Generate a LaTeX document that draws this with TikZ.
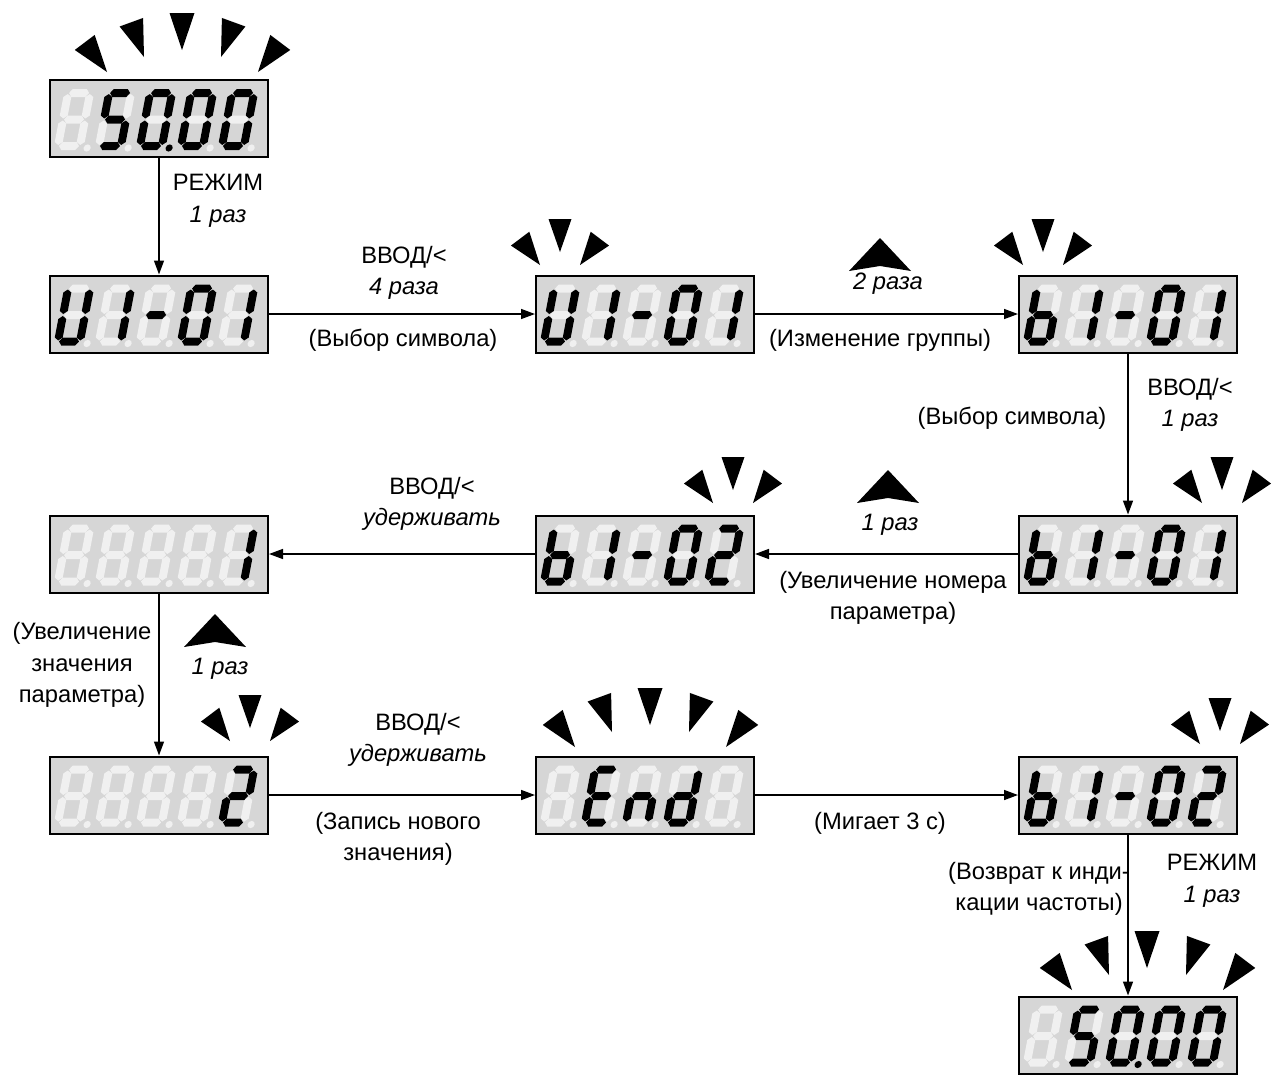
\documentclass[tikz,border=0pt]{standalone}
\usepackage{fontspec}
\setmainfont{Liberation Sans}
\usepackage{tikz}
\usetikzlibrary{arrows.meta}

\begin{document}
\begin{tikzpicture}[
  x=0.2mm, y=-0.2mm,
  every node/.style={font=\fontsize{13.5}{18}\selectfont},
  lcd/.style={draw, line width=0.4mm, fill=black!16, minimum width=43.6mm, minimum height=15.4mm, inner sep=0},
  lbl/.style={align=center, inner sep=1pt},
  arr/.style={-{Triangle[length=2.8mm, width=2mm]}, line width=0.3mm},
]

\useasboundingbox (0,0) rectangle (1274,1075);

%% ── segments of one digit (frame 22 x 53, y up) ──────────────────────────
\def\hseg#1{\fill[\segcol] (1,#1) -- ++(3,4) -- ++(14,0) -- ++(3,-4) -- ++(-3,-4) -- ++(-14,0) -- cycle;}
\def\vseg#1#2{\fill[\segcol] (#1,#2+1) -- ++(4,3) -- ++(0,18.5) -- ++(-4,3) -- ++(-4,-3) -- ++(0,-18.5) -- cycle;}
\def\sega{\hseg{53}}
\def\segb{\vseg{22}{26.5}}
\def\segc{\vseg{22}{0}}
\def\segd{\hseg{0}}
\def\sege{\vseg{0}{0}}
\def\segf{\vseg{0}{26.5}}
\def\segg{\hseg{26.5}}
\def\segp{\fill[\segcol] (29.5,-2) circle[radius=3.6];}

%% five digits into a display node
\def\lcdshow#1#2{
  \foreach \segs [count=\k from 0] in {#2} {
    \begin{scope}[shift={(#1.south west)}, shift={(9+41*\k,-12)}, y=0.2mm, xslant=0.19]
      \def\segcol{black!6}
      \foreach \s in {a,b,c,d,e,f,g,p} {\csname seg\s\endcsname}
      \def\segcol{black}
      \foreach \s in \segs {\csname seg\s\endcsname}
    \end{scope}
  }
}

%% blinking marks, #1/#2 = tip of the middle one
\def\blinkfive#1#2{
  \foreach \dx/\dy/\ang in {-75/22/37, -38/7/20, 0/0/0, 39/7/-20, 76/22/-37}
    \fill[shift={(#1+\dx,#2+\dy)}, rotate=\ang] (0,0) -- (-12.5,-37) -- (12.5,-37) -- cycle;
}
\def\blinkthree#1#2{
  \foreach \dx/\dy/\ang in {-20/13/37, 0/0/0, 20/13/-37}
    \fill[shift={(#1+\dx,#2+\dy)}, rotate=\ang] (0,0) -- (-11.5,-33) -- (11.5,-33) -- cycle;
}
%% up key, #1/#2 = apex
\def\upkey#1#2{\fill (#1,#2) -- ++(31,33) -- ++(-31,-5) -- ++(-31,5) -- cycle;}

%% ── displays ─────────────────────────────────────────────────────────────
\node[lcd] (freqA) at (159,118.5) {};
\node[lcd] (uA)    at (159,314) {};
\node[lcd] (uB)    at (645,314) {};
\node[lcd] (bA)    at (1128,314) {};
\node[lcd] (bB)    at (1128,554) {};
\node[lcd] (bC)    at (645,554) {};
\node[lcd] (valA)  at (159,554) {};
\node[lcd] (valB)  at (159,795) {};
\node[lcd] (done)  at (645,795) {};
\node[lcd] (bD)    at (1128,795) {};
\node[lcd] (freqB) at (1128,1035) {};

\lcdshow{freqA}{{},{a,f,g,c,d},{a,b,c,d,e,f,p},{a,b,c,d,e,f},{a,b,c,d,e,f}}
\lcdshow{uA}{{b,c,d,e,f},{b,c},{g},{a,b,c,d,e,f},{b,c}}
\lcdshow{uB}{{b,c,d,e,f},{b,c},{g},{a,b,c,d,e,f},{b,c}}
\lcdshow{bA}{{c,d,e,f,g},{b,c},{g},{a,b,c,d,e,f},{b,c}}
\lcdshow{bB}{{c,d,e,f,g},{b,c},{g},{a,b,c,d,e,f},{b,c}}
\lcdshow{bC}{{c,d,e,f,g},{b,c},{g},{a,b,c,d,e,f},{a,b,g,e,d}}
\lcdshow{valA}{{},{},{},{},{b,c}}
\lcdshow{valB}{{},{},{},{},{a,b,g,e,d}}
\lcdshow{done}{{},{a,d,e,f,g},{c,e,g},{b,c,d,e,g},{}}
\lcdshow{bD}{{c,d,e,f,g},{b,c},{g},{a,b,c,d,e,f},{a,b,g,e,d}}
\lcdshow{freqB}{{},{a,f,g,c,d},{a,b,c,d,e,f,p},{a,b,c,d,e,f},{a,b,c,d,e,f}}

\blinkfive{182}{50}
\blinkthree{560}{252}
\blinkthree{1043}{252}
\blinkthree{1222}{490}
\blinkthree{733}{490}
\blinkthree{250}{728}
\blinkfive{650}{725}
\blinkthree{1220}{731}
\blinkfive{1147}{968}

%% ── steps ────────────────────────────────────────────────────────────────
\draw[arr] (freqA.south) -- (uA.north);
\draw[arr] (uA.east) -- (uB.west);
\draw[arr] (uB.east) -- (bA.west);
\draw[arr] (bA.south) -- (bB.north);
\draw[arr] (bB.west) -- (bC.east);
\draw[arr] (bC.west) -- (valA.east);
\draw[arr] (valA.south) -- (valB.north);
\draw[arr] (valB.east) -- (done.west);
\draw[arr] (done.east) -- (bD.west);
\draw[arr] (bD.south) -- (freqB.north);

%% ── labels ───────────────────────────────────────────────────────────────
\node[lbl] (modeA)  at (218,201) {РЕЖИМ\\\textit{1 раз}};
\node[lbl] (enterA) at (404,273) {ВВОД/<\\\textit{4 раза}};
\node[lbl] (selA)   at (403,340) {(Выбор символа)};
\upkey{880}{238}
\node[lbl] (upA)    at (888,284) {\textit{2 раза}};
\node[lbl] (grp)    at (880,340) {(Изменение группы)};
\node[lbl] (enterB) at (1190,405) {ВВОД/<\\\textit{1 раз}};
\node[lbl] (selB)   at (1012,418) {(Выбор символа)};
\upkey{888}{470}
\node[lbl] (upB)    at (890,525) {\textit{1 раз}};
\node[lbl] (incNum) at (893,598) {(Увеличение номера\\параметра)};
\node[lbl] (holdA)  at (432,504) {ВВОД/<\\\textit{удерживать}};
\node[lbl] (incVal) at (82,665) {(Увеличение\\значения\\параметра)};
\upkey{215}{614}
\node[lbl] (upC)    at (220,669) {\textit{1 раз}};
\node[lbl] (holdB)  at (418,740) {ВВОД/<\\\textit{удерживать}};
\node[lbl] (write)  at (398,839) {(Запись нового\\значения)};
\node[lbl] (blink)  at (880,823) {(Мигает 3 с)};
\node[lbl] (back)   at (1039,889) {(Возврат к инди-\\кации частоты)};
\node[lbl] (modeB)  at (1212,881) {РЕЖИМ\\\textit{1 раз}};

\end{tikzpicture}
\end{document}
